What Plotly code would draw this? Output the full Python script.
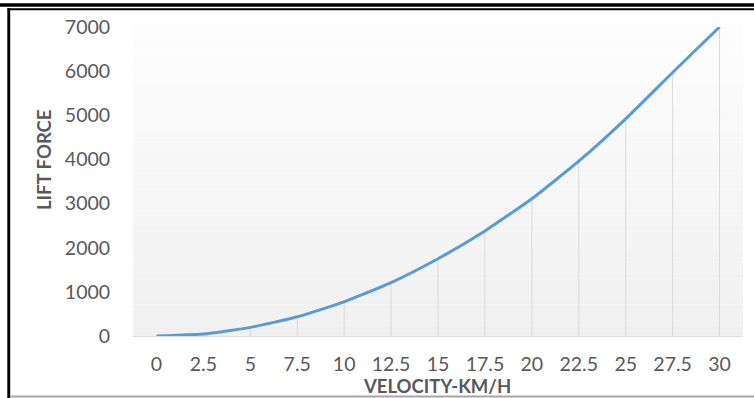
import plotly.graph_objects as go

# Velocity (km/h) categories and measured lift force
velocity = ["0", "2.5", "5", "7.5", "10", "12.5", "15", "17.5", "20", "22.5", "25", "27.5", "30"]
lift_force = [0, 45, 195, 435, 775, 1210, 1750, 2380, 3110, 3960, 4920, 5970, 7000]
y_ticks = [0, 1000, 2000, 3000, 4000, 5000, 6000, 7000]

W, H = 754, 398
L, R, T, B = 133, 11, 27, 62
plot_h = H - T - B

fig = go.Figure()

# drop lines from each point down to the axis
fig.add_trace(go.Scatter(
    x=velocity, y=lift_force, mode="lines",
    line=dict(color="rgba(0,0,0,0)", width=1),
    error_y=dict(type="data", symmetric=False,
                 array=[0] * len(lift_force), arrayminus=lift_force,
                 color="#d9d9d9", thickness=1, width=0),
    hoverinfo="skip", showlegend=False,
))

# lift force curve
fig.add_trace(go.Scatter(
    x=velocity, y=lift_force, mode="lines",
    line=dict(color="#5b9bd5", width=3, shape="spline", smoothing=0.5),
    showlegend=False,
))

shapes = []
# vertical gradient behind the plot area (white at top to light grey at bottom)
top_px = 22
n_bands = 60
y_top = 1 + (T - top_px) / plot_h
for i in range(n_bands):
    f0 = i / n_bands
    f1 = (i + 1) / n_bands
    t = (f0 + f1) / 2
    c = int(round(253 - (253 - 240) * t))
    shapes.append(dict(
        type="rect", xref="paper", yref="paper",
        x0=0, x1=1,
        y0=y_top - f1 * y_top, y1=y_top - f0 * y_top,
        fillcolor=f"rgb({c},{c},{c})", line=dict(width=0), layer="below",
    ))

# page frame: double rule on top, left border, grey rule at the bottom
def px_x(x):
    return (x - L) / (W - L - R)

def px_y(y):
    return (H - B - y) / plot_h

shapes += [
    dict(type="rect", xref="paper", yref="paper",
         x0=px_x(0), x1=px_x(W), y0=px_y(6.7), y1=px_y(3.3),
         fillcolor="black", line=dict(width=0), layer="above"),
    dict(type="rect", xref="paper", yref="paper",
         x0=px_x(7.5), x1=px_x(W), y0=px_y(10.2), y1=px_y(8.3),
         fillcolor="black", line=dict(width=0), layer="above"),
    dict(type="rect", xref="paper", yref="paper",
         x0=px_x(7.3), x1=px_x(10.2), y0=px_y(H), y1=px_y(8.3),
         fillcolor="black", line=dict(width=0), layer="above"),
    dict(type="rect", xref="paper", yref="paper",
         x0=px_x(10.2), x1=px_x(W), y0=px_y(397.5), y1=px_y(395.5),
         fillcolor="#a6a6a6", line=dict(width=0), layer="above"),
]

tick_font = dict(family="Lato, Open Sans, sans-serif", size=19.5, color="#595959")
title_font = dict(family="Lato, Open Sans, sans-serif", size=18.5, color="#595959")

fig.update_layout(
    width=W, height=H,
    margin=dict(l=L, r=R, t=T, b=B, pad=0),
    paper_bgcolor="white",
    plot_bgcolor="rgba(0,0,0,0)",
    shapes=shapes,
    xaxis=dict(
        type="category", range=[-0.5, len(velocity) - 0.5],
        showgrid=False, zeroline=False,
        showline=True, linecolor="#d9d9d9", linewidth=1,
        ticks="outside", ticklen=11, tickcolor="rgba(0,0,0,0)",
        tickfont=tick_font,
    ),
    yaxis=dict(
        range=[0, 7000], tickvals=y_ticks,
        showgrid=False, zeroline=False, showline=False,
        ticks="outside", ticklen=18, tickcolor="rgba(0,0,0,0)",
        tickfont=tick_font,
    ),
    annotations=[
        dict(text="<b>VELOCITY-KM/H</b>", xref="paper", yref="paper",
             x=px_x(437), y=px_y(386), xanchor="center", yanchor="middle",
             showarrow=False, font=title_font),
        dict(text="<b>LIFT FORCE</b>", xref="paper", yref="paper",
             x=px_x(44), y=px_y(160), xanchor="center", yanchor="middle",
             textangle=-90, showarrow=False, font=title_font),
    ],
)

fig.write_html("out.html")
